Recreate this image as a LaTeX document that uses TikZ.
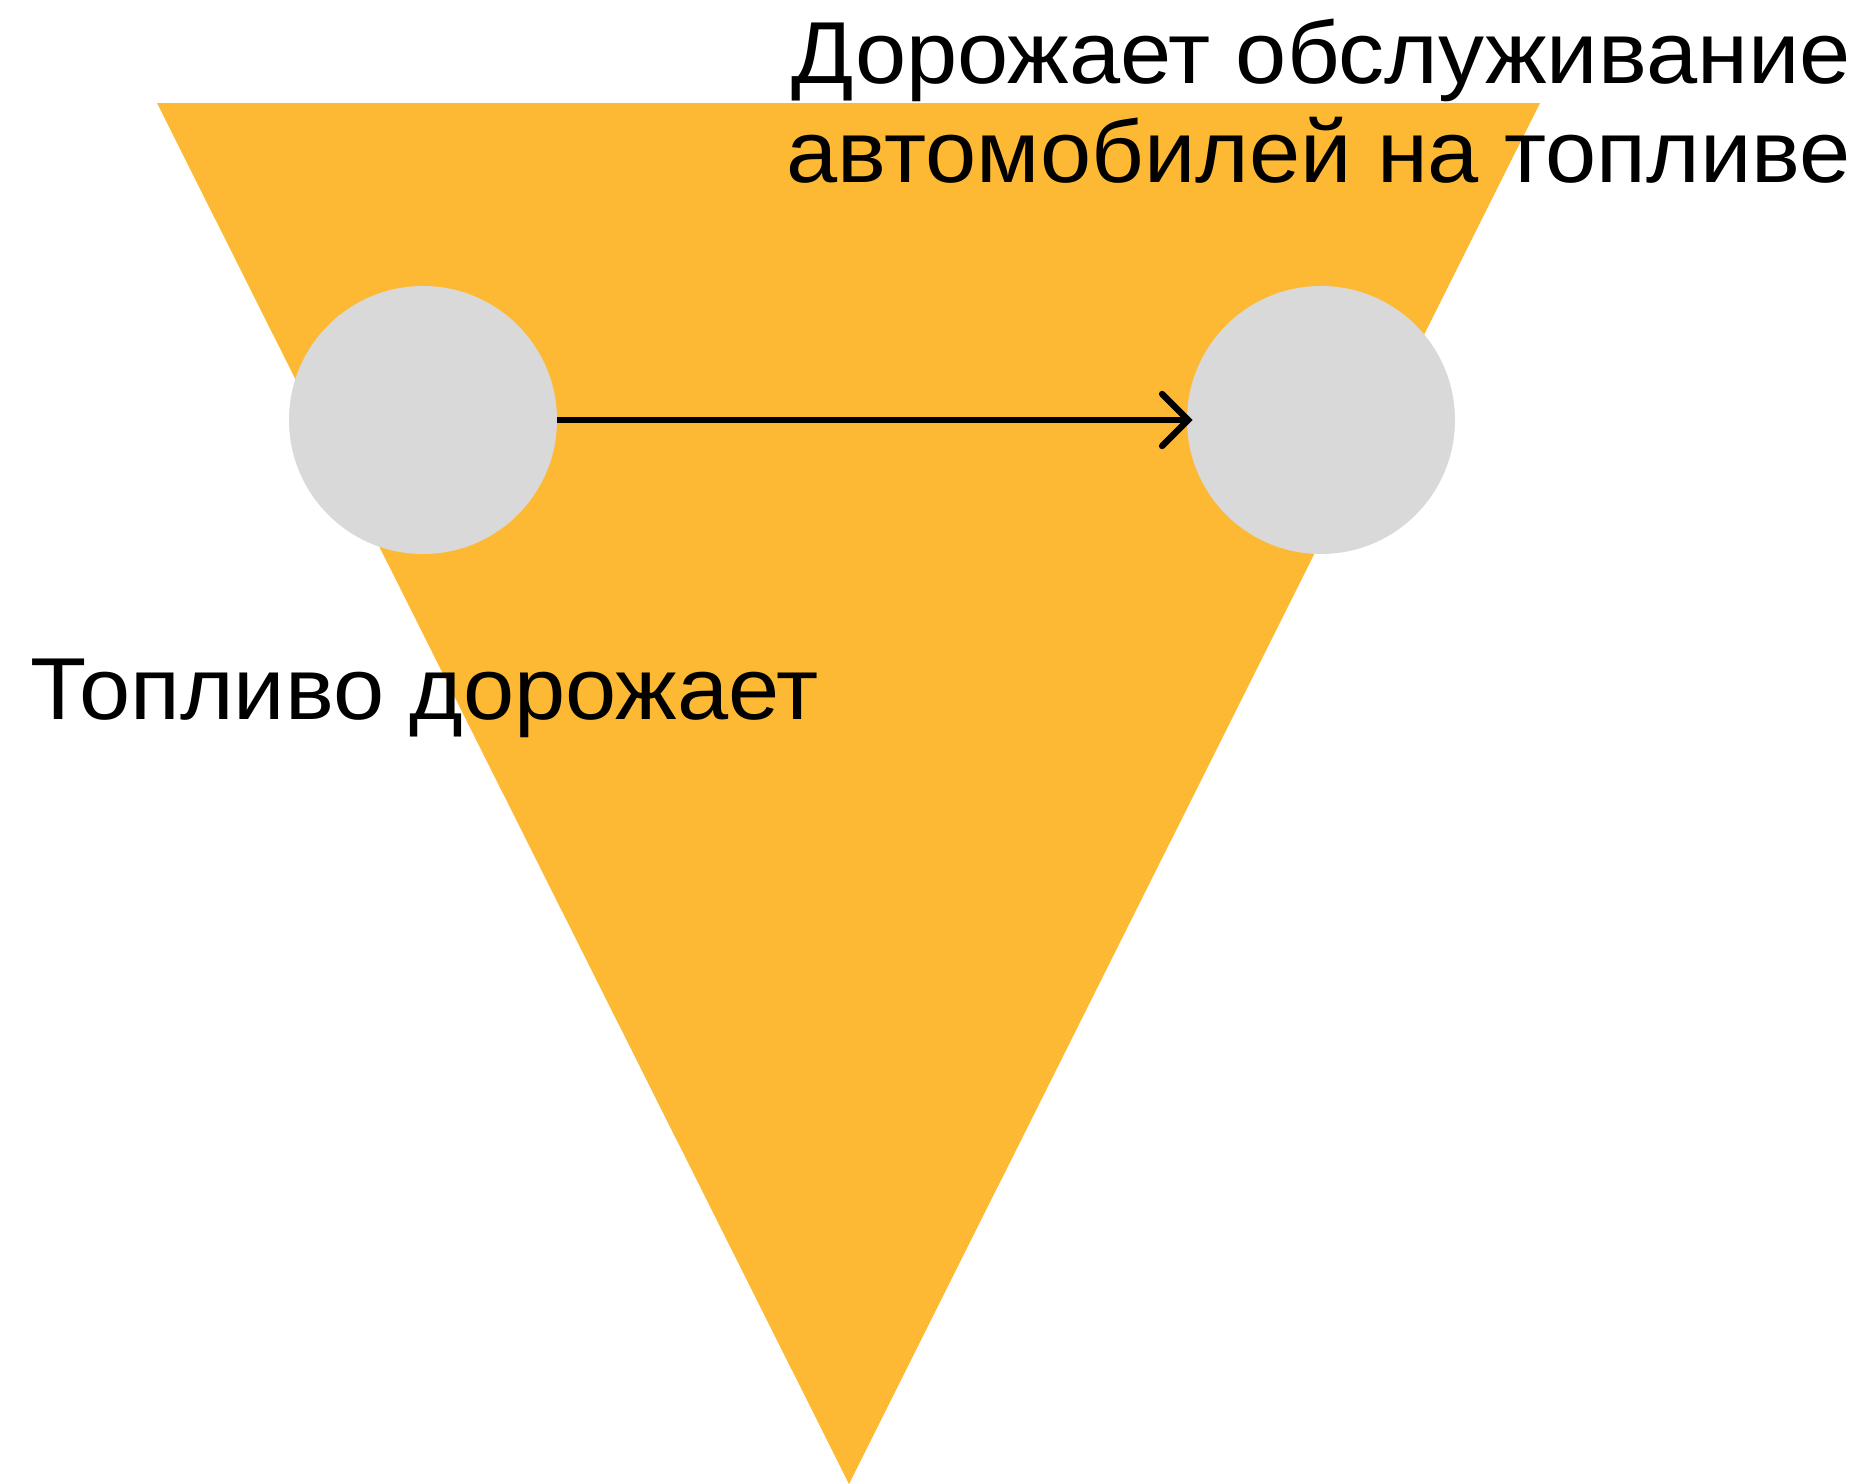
\documentclass[tikz,border=0pt]{standalone}
\usepackage{fontspec}
\setmainfont[FakeStretch=1.045]{Liberation Sans}
\usetikzlibrary{arrows.meta}
\definecolor{triyellow}{HTML}{FDB933}
\definecolor{dotgray}{HTML}{D9D9D9}
\tikzset{
  event/.style={circle, fill=dotgray, minimum size=134pt, inner sep=0pt},
  caption/.style={font=\fontsize{44}{51}\selectfont, inner sep=0pt},
  cause/.style={line width=3.2pt, shorten >=-3pt, -{Straight Barb[length=13pt, width=26pt, line cap=round]}}
}

\begin{document}
\begin{tikzpicture}[x=0.5pt, y=-0.5pt]
    \useasboundingbox (0,0) rectangle (1870,1484);
    % background triangle
    \fill[triyellow] (157,103) -- (1540,103) -- (849,1484) -- cycle;

    \node[event] (fuel) at (423,420) {};
    \node[event] (service) at (1321,420) {};
    \draw[cause] (fuel) -- (service);

    \node[caption, anchor=base west] (fuellabel) at (30,719) {Топливо дорожает};
    \node[caption, anchor=base east] (servicelabel1) at (1851,83) {Дорожает обслуживание};
    \node[caption, anchor=base east] (servicelabel2) at (1851,182) {автомобилей на топливе};
\end{tikzpicture}
\end{document}
